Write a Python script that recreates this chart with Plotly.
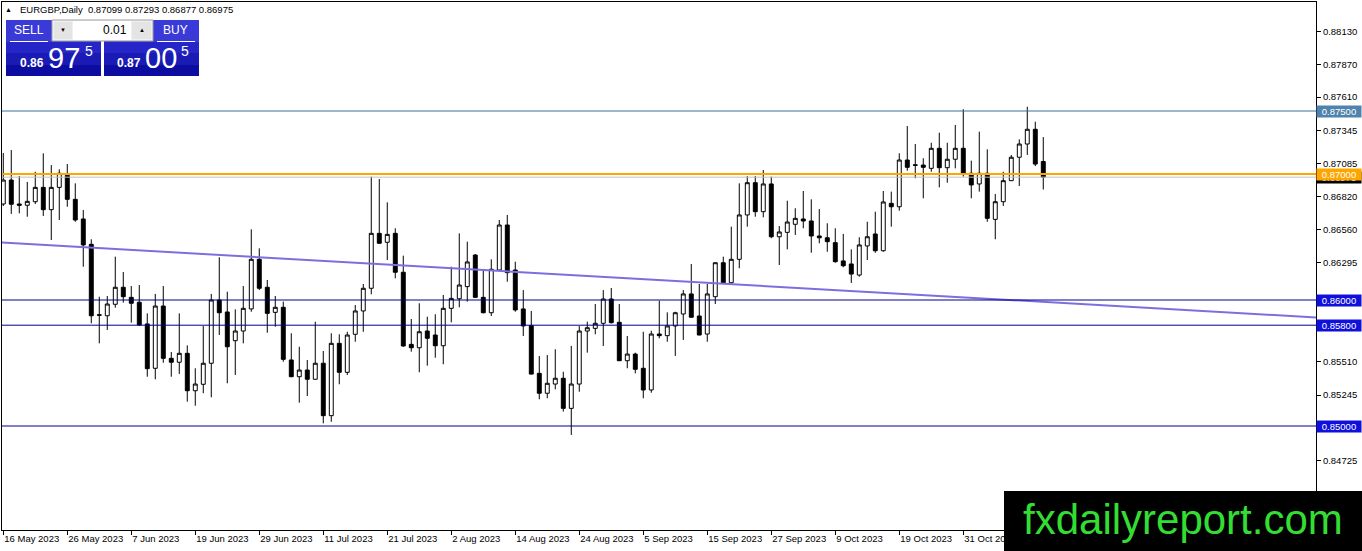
import plotly.graph_objects as go


# -----------------------------
# Daten: EURGBP Daily, ein Balken je Handelstag ab 16 May 2023
# -----------------------------
opens = [
    0.86762, 0.86952, 0.86762, 0.86752, 0.86780, 0.86894, 0.86717, 0.86894, 0.86990, 0.86799,
    0.86643, 0.86442, 0.85883, 0.85875, 0.85966, 0.86101, 0.86021, 0.85982, 0.85810, 0.85458,
    0.85952, 0.85537, 0.85506, 0.85577, 0.85280, 0.85331, 0.85498, 0.86000, 0.85905, 0.85677,
    0.85754, 0.85929, 0.86323, 0.86101, 0.85902, 0.85942, 0.85524, 0.85391, 0.85444, 0.85371,
    0.85498, 0.85082, 0.85656, 0.85426, 0.85728, 0.85913, 0.86093, 0.86529, 0.86458, 0.86529,
    0.86220, 0.85648, 0.85621, 0.85754, 0.85722, 0.85637, 0.85934, 0.86010, 0.86106, 0.86357,
    0.86021, 0.85899, 0.86238, 0.86595, 0.86238, 0.85929, 0.85796, 0.85418, 0.85260, 0.85333,
    0.85379, 0.85140, 0.85333, 0.85754, 0.85775, 0.85815, 0.86008, 0.85823, 0.85518, 0.85571,
    0.85458, 0.85286, 0.85730, 0.85717, 0.85794, 0.85889, 0.86048, 0.85873, 0.85730, 0.86026,
    0.86296, 0.86137, 0.86323, 0.86675, 0.86931, 0.86701, 0.86921, 0.86502, 0.86537, 0.86601,
    0.86643, 0.86627, 0.86508, 0.86494, 0.86455, 0.86310, 0.86286, 0.86198, 0.86429, 0.86524,
    0.86391, 0.86767, 0.86740, 0.87111, 0.87073, 0.87071, 0.87045, 0.87204, 0.87050, 0.87117,
    0.87204, 0.87006, 0.86921, 0.87006, 0.86640, 0.86780, 0.86947, 0.87133, 0.87238, 0.87355,
    0.87099,
]
highs = [
    0.87167, 0.87190, 0.86984, 0.86937, 0.87018, 0.87164, 0.87071, 0.87037, 0.87079, 0.86926,
    0.86714, 0.86482, 0.86026, 0.86032, 0.86344, 0.86222, 0.86111, 0.86119, 0.85894, 0.86048,
    0.86111, 0.85587, 0.85894, 0.85640, 0.85458, 0.85794, 0.86048, 0.86339, 0.86066, 0.85926,
    0.86111, 0.86561, 0.86410, 0.86159, 0.86032, 0.85987, 0.85736, 0.85629, 0.85524, 0.85828,
    0.85595, 0.85736, 0.85728, 0.85748, 0.85960, 0.86127, 0.86979, 0.86960, 0.86775, 0.86569,
    0.86352, 0.85849, 0.85974, 0.85867, 0.85887, 0.86040, 0.86264, 0.86529, 0.86463, 0.86365,
    0.86238, 0.86323, 0.86635, 0.86675, 0.86304, 0.86079, 0.85913, 0.85556, 0.85563, 0.85609,
    0.85431, 0.85635, 0.85794, 0.85828, 0.85968, 0.86079, 0.86095, 0.85968, 0.85714, 0.85582,
    0.85748, 0.85756, 0.85994, 0.85902, 0.85907, 0.86079, 0.86286, 0.86127, 0.86127, 0.86298,
    0.86344, 0.86582, 0.86926, 0.86984, 0.86984, 0.87032, 0.86979, 0.86587, 0.86788, 0.86728,
    0.86865, 0.86799, 0.86722, 0.86609, 0.86569, 0.86524, 0.86402, 0.86498, 0.86621, 0.86701,
    0.86865, 0.86860, 0.87164, 0.87381, 0.87238, 0.87125, 0.87248, 0.87328, 0.87248, 0.87389,
    0.87514, 0.87106, 0.87336, 0.87196, 0.86841, 0.87018, 0.87151, 0.87275, 0.87534, 0.87415,
    0.87293,
]
lows = [
    0.86746, 0.86683, 0.86688, 0.86661, 0.86762, 0.86667, 0.86476, 0.86635, 0.86740, 0.86621,
    0.86264, 0.85815, 0.85656, 0.85762, 0.85939, 0.85979, 0.85820, 0.85794, 0.85391, 0.85371,
    0.85502, 0.85391, 0.85413, 0.85193, 0.85161, 0.85260, 0.85228, 0.85722, 0.85339, 0.85405,
    0.85656, 0.85907, 0.86079, 0.85740, 0.85788, 0.85510, 0.85388, 0.85185, 0.85238, 0.85368,
    0.85021, 0.85034, 0.85331, 0.85405, 0.85669, 0.85748, 0.86045, 0.86448, 0.86317, 0.86172,
    0.85629, 0.85590, 0.85426, 0.85479, 0.85542, 0.85490, 0.85823, 0.85942, 0.85987, 0.86016,
    0.85894, 0.85873, 0.86233, 0.86145, 0.85907, 0.85714, 0.85408, 0.85212, 0.85220, 0.85291,
    0.85114, 0.84929, 0.85272, 0.85582, 0.85728, 0.85635, 0.85814, 0.85516, 0.85458, 0.85418,
    0.85220, 0.85264, 0.85696, 0.85669, 0.85556, 0.85683, 0.85860, 0.85720, 0.85669, 0.85968,
    0.86135, 0.86133, 0.86252, 0.86582, 0.86661, 0.86656, 0.86490, 0.86278, 0.86402, 0.86516,
    0.86569, 0.86375, 0.86450, 0.86383, 0.86296, 0.86260, 0.86135, 0.86185, 0.86317, 0.86375,
    0.86383, 0.86582, 0.86709, 0.87026, 0.86966, 0.86807, 0.87018, 0.86894, 0.86931, 0.87045,
    0.86979, 0.86807, 0.86860, 0.86621, 0.86482, 0.86746, 0.86945, 0.86905, 0.87151, 0.87063,
    0.86877,
]
closes = [
    0.86952, 0.86760, 0.86752, 0.86783, 0.86894, 0.86717, 0.86894, 0.87006, 0.86799, 0.86635,
    0.86437, 0.85875, 0.85879, 0.85968, 0.86101, 0.86026, 0.85974, 0.85802, 0.85455, 0.85952,
    0.85537, 0.85506, 0.85577, 0.85280, 0.85333, 0.85498, 0.86000, 0.85899, 0.85629, 0.85754,
    0.85934, 0.86323, 0.86093, 0.85894, 0.85942, 0.85529, 0.85391, 0.85444, 0.85371, 0.85498,
    0.85082, 0.85656, 0.85426, 0.85722, 0.85913, 0.86093, 0.86529, 0.86450, 0.86521, 0.86220,
    0.85635, 0.85621, 0.85748, 0.85696, 0.85637, 0.85934, 0.86013, 0.86119, 0.86302, 0.86021,
    0.85899, 0.86244, 0.86595, 0.86217, 0.85921, 0.85794, 0.85412, 0.85260, 0.85339, 0.85379,
    0.85140, 0.85333, 0.85754, 0.85780, 0.85815, 0.86008, 0.85820, 0.85518, 0.85571, 0.85450,
    0.85286, 0.85730, 0.85717, 0.85794, 0.85899, 0.86048, 0.85863, 0.85722, 0.86048, 0.86296,
    0.86137, 0.86323, 0.86675, 0.86931, 0.86701, 0.86921, 0.86502, 0.86540, 0.86619, 0.86648,
    0.86627, 0.86508, 0.86494, 0.86463, 0.86304, 0.86272, 0.86206, 0.86437, 0.86502, 0.86391,
    0.86778, 0.86740, 0.87111, 0.87053, 0.87069, 0.87053, 0.87204, 0.87050, 0.87117, 0.87204,
    0.87000, 0.86913, 0.87006, 0.86648, 0.86780, 0.86947, 0.87133, 0.87238, 0.87355, 0.87079,
    0.86975,
]

# Datumsbeschriftung: jeder 8. Balken
date_labels = [
    "16 May 2023", "26 May 2023", "7 Jun 2023", "19 Jun 2023", "29 Jun 2023",
    "11 Jul 2023", "21 Jul 2023", "2 Aug 2023", "14 Aug 2023", "24 Aug 2023",
    "5 Sep 2023", "15 Sep 2023", "27 Sep 2023", "9 Oct 2023", "19 Oct 2023",
    "31 Oct 2023",
]
label_step = 8

# sichtbare Preisskala (die übrigen liegen unter den Preisschildern)
price_ticks = [
    0.88130, 0.87870, 0.87610, 0.87345, 0.87085, 0.86820, 0.86560, 0.86295,
    0.85510, 0.85245, 0.84725,
]

# horizontale Linien und Trendlinie
levels = [0.87500, 0.87000, 0.86000, 0.85800, 0.85000]
level_colors = ["#3a6f9a", "#ffa500", "#00008b", "#00008b", "#00008b"]
tag_colors = ["#4f83ad", "#ffa500", "#1010dc", "#1010dc", "#1010dc"]
bid_price = 0.86975
trend_x = [-1, 165]
trend_y = [0.86459, 0.85858]

header = "EURGBP,Daily  0.87099 0.87293 0.86877 0.86975"
sell_parts = ["0.86", "97", "5"]
buy_parts = ["0.87", "00", "5"]
lot_size = "0.01"


# -----------------------------
# Layout-Hilfen (Pixel -> Paper)
# -----------------------------
W, H = 1362, 551
ML, MR, MT, MB = 2, 46, 2, 21
FONT = "Liberation Sans"


def px(x):
    return (x - ML) / (W - ML - MR)


def py(y):
    return (H - MB - y) / (H - MT - MB)


def rect(x0, y0, x1, y1, fill, line=None):
    return dict(type="rect", xref="paper", yref="paper", layer="above",
                x0=px(x0), x1=px(x1), y0=py(y1), y1=py(y0),
                fillcolor=fill, line=dict(width=1 if line else 0, color=line or fill))


def label(x, y, text, size, color="white", anchor="center"):
    return dict(xref="paper", yref="paper", x=px(x), y=py(y), text=text,
                showarrow=False, xanchor=anchor, yanchor="middle",
                font=dict(family=FONT, size=size, color=color))


xs = list(range(len(opens)))

fig = go.Figure()
fig.add_trace(go.Candlestick(
    x=xs, open=opens, high=highs, low=lows, close=closes,
    increasing=dict(line=dict(color="black", width=1), fillcolor="white"),
    decreasing=dict(line=dict(color="black", width=1), fillcolor="black"),
    whiskerwidth=0, hoverinfo="skip", showlegend=False,
))
fig.add_trace(go.Scatter(
    x=trend_x, y=trend_y, mode="lines", line=dict(color="#7b6fe0", width=2),
    hoverinfo="skip", showlegend=False,
))

shapes = [dict(type="line", xref="paper", yref="y", x0=0, x1=1, y0=bid_price, y1=bid_price,
               line=dict(color="#c0c0c0", width=1), layer="above")]
for lv, col in zip(levels, level_colors):
    shapes.append(dict(type="line", xref="paper", yref="y", x0=0, x1=1, y0=lv, y1=lv,
                       line=dict(color=col, width=2 if col == "#ffa500" else 1), layer="above"))

# SELL / BUY Panel
for bx0, bx1 in [(6, 101), (104, 199)]:
    shapes.append(rect(bx0, 20, bx1, 42, "#3a3ad8"))
    shapes.append(rect(bx0, 42, bx1, 53, "#2626c8"))
    shapes.append(rect(bx0, 53, bx1, 65, "#1a1ab4"))
    shapes.append(rect(bx0, 65, bx1, 76, "#0c0ca0"))
shapes.append(dict(type="line", xref="paper", yref="paper", x0=px(10), x1=px(48),
                   y0=py(41.5), y1=py(41.5), line=dict(color="white", width=1)))
shapes.append(dict(type="line", xref="paper", yref="paper", x0=px(157), x1=px(195),
                   y0=py(41.5), y1=py(41.5), line=dict(color="white", width=1)))
shapes.append(rect(52, 20, 153, 41, "#f0f0f0", "#a0a0a0"))
shapes.append(rect(54, 22, 72, 39, "#e4e4e4"))
shapes.append(rect(73, 21, 131, 40, "white"))
shapes.append(rect(132, 22, 151, 39, "#e4e4e4"))

# Wasserzeichen
shapes.append(rect(1004, 491, 1362, 551, "black"))

# Preisschilder rechts (Bid zuerst, damit das orange Schild darüber liegt)
annotations = []
price_tags = [(bid_price, "black")] + list(zip(levels, tag_colors))
for lv, col in price_tags:
    annotations.append(dict(
        xref="paper", yref="y", x=1, y=lv, xanchor="left", yanchor="middle",
        text=f"{lv:.5f}", showarrow=False, bgcolor=col, borderpad=0, width=44,
        font=dict(family=FONT, size=9.5, color="white"),
    ))

annotations += [
    label(8, 10, "▲", 7, "black"),
    label(18, 10, header, 9.5, "black", "left"),
    label(28.5, 30.5, "SELL", 12),
    label(175.5, 30.5, "BUY", 12),
    label(63, 30.5, "▼", 6, "black"),
    label(142, 30.5, "▲", 6, "black"),
    label(129, 30.5, lot_size, 12, "black", "right"),
    label(32, 63, "<b>" + sell_parts[0] + "</b>", 12),
    label(64, 58, sell_parts[1], 29),
    label(89, 51, sell_parts[2], 14),
    label(129, 63, "<b>" + buy_parts[0] + "</b>", 12),
    label(161, 58, buy_parts[1], 29),
    label(185, 51, buy_parts[2], 14),
    label(1183, 519, "fxdailyreport.com", 42, "#33dd33"),
]

fig.update_layout(
    width=W, height=H,
    margin=dict(l=ML, r=MR, t=MT, b=MB),
    paper_bgcolor="white", plot_bgcolor="white",
    shapes=shapes, annotations=annotations,
    font=dict(family=FONT, size=9.5, color="black"),
    showlegend=False,
)
fig.update_xaxes(
    range=[-0.16, 164.09], rangeslider=dict(visible=False),
    tickvals=[i * label_step for i in range(len(date_labels))], ticktext=date_labels,
    ticks="outside", ticklen=4, tickcolor="black", ticklabelposition="outside right",
    showline=True, linecolor="black", linewidth=1, mirror=True,
    showgrid=False, zeroline=False, tickfont=dict(family=FONT, size=9.5, color="black"),
)
fig.update_yaxes(
    range=[0.841746, 0.883651], side="right",
    tickvals=price_ticks, tickformat=".5f",
    ticks="outside", ticklen=4, tickcolor="black",
    showline=True, linecolor="black", linewidth=1, mirror=True,
    showgrid=False, zeroline=False, tickfont=dict(family=FONT, size=9.5, color="black"),
)

fig.write_html("out.html", config={"displayModeBar": False},
               post_script="document.body.style.margin='0';document.body.style.overflow='hidden';")
